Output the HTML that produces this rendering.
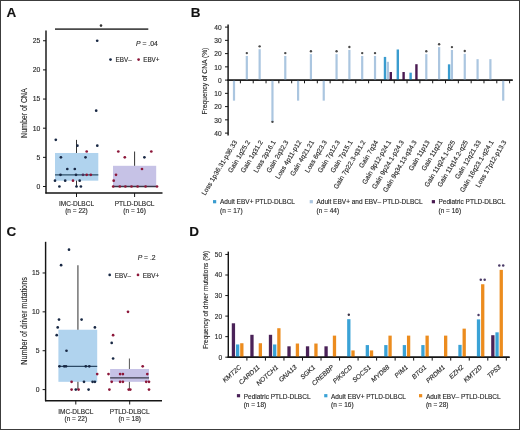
<!DOCTYPE html>
<html><head><meta charset="utf-8"><style>
html,body{margin:0;padding:0;background:#fff;}
svg{display:block;font-family:"Liberation Sans", sans-serif;will-change:transform;}
text{stroke:#2a2a2a;stroke-width:0.14px;}
</style></head><body>
<svg width="520" height="430" viewBox="0 0 520 430">
<rect width="520" height="430" fill="#fff"/>
<rect x="0.5" y="0.5" width="519" height="429" fill="none" stroke="#3c3c3c" stroke-width="1"/>
<text x="6.60" y="17.40" font-size="13.5" text-anchor="start" fill="#111" font-weight="bold" font-style="normal" >A</text>
<text x="190.80" y="17.40" font-size="13.5" text-anchor="start" fill="#111" font-weight="bold" font-style="normal" >B</text>
<text x="6.60" y="235.60" font-size="13.5" text-anchor="start" fill="#111" font-weight="bold" font-style="normal" >C</text>
<text x="189.20" y="235.60" font-size="13.5" text-anchor="start" fill="#111" font-weight="bold" font-style="normal" >D</text>
<rect x="55.00" y="152.98" width="43.30" height="27.69" fill="#b0d3ee"/>
<rect x="113.00" y="165.80" width="43.20" height="20.70" fill="#c6c2e6"/>
<line x1="76.50" y1="139.86" x2="76.50" y2="152.98" stroke="#333" stroke-width="1" />
<line x1="76.50" y1="180.67" x2="76.50" y2="186.50" stroke="#333" stroke-width="1" />
<line x1="134.60" y1="151.52" x2="134.60" y2="165.80" stroke="#333" stroke-width="1" />
<line x1="55.00" y1="174.84" x2="98.30" y2="174.84" stroke="#2f5068" stroke-width="1.4" />
<line x1="113.00" y1="186.50" x2="156.20" y2="186.50" stroke="#3a3a4a" stroke-width="1.6" />
<line x1="46.00" y1="30.50" x2="46.00" y2="193.50" stroke="#151515" stroke-width="1.45" />
<line x1="45.40" y1="193.00" x2="162.50" y2="193.00" stroke="#151515" stroke-width="1.45" />
<line x1="43.00" y1="186.50" x2="46.00" y2="186.50" stroke="#151515" stroke-width="1" />
<text x="40.30" y="188.90" font-size="6.8" text-anchor="end" fill="#2a2a2a" font-weight="normal" font-style="normal" >0</text>
<line x1="43.00" y1="157.35" x2="46.00" y2="157.35" stroke="#151515" stroke-width="1" />
<text x="40.30" y="159.75" font-size="6.8" text-anchor="end" fill="#2a2a2a" font-weight="normal" font-style="normal" >5</text>
<line x1="43.00" y1="128.20" x2="46.00" y2="128.20" stroke="#151515" stroke-width="1" />
<text x="40.30" y="130.60" font-size="6.8" text-anchor="end" fill="#2a2a2a" font-weight="normal" font-style="normal" >10</text>
<line x1="43.00" y1="99.05" x2="46.00" y2="99.05" stroke="#151515" stroke-width="1" />
<text x="40.30" y="101.45" font-size="6.8" text-anchor="end" fill="#2a2a2a" font-weight="normal" font-style="normal" >15</text>
<line x1="43.00" y1="69.90" x2="46.00" y2="69.90" stroke="#151515" stroke-width="1" />
<text x="40.30" y="72.30" font-size="6.8" text-anchor="end" fill="#2a2a2a" font-weight="normal" font-style="normal" >20</text>
<line x1="43.00" y1="40.75" x2="46.00" y2="40.75" stroke="#151515" stroke-width="1" />
<text x="40.30" y="43.15" font-size="6.8" text-anchor="end" fill="#2a2a2a" font-weight="normal" font-style="normal" >25</text>
<line x1="76.50" y1="193.00" x2="76.50" y2="197.00" stroke="#151515" stroke-width="1" />
<line x1="134.60" y1="193.00" x2="134.60" y2="197.00" stroke="#151515" stroke-width="1" />
<text x="76.50" y="205.60" font-size="6.5" text-anchor="middle" fill="#2a2a2a" font-weight="normal" font-style="normal" >IMC-DLBCL</text>
<text x="76.50" y="212.80" font-size="6.5" text-anchor="middle" fill="#2a2a2a" font-weight="normal" font-style="normal" >(n = 22)</text>
<text x="134.60" y="205.60" font-size="6.5" text-anchor="middle" fill="#2a2a2a" font-weight="normal" font-style="normal" >PTLD-DLBCL</text>
<text x="134.60" y="212.80" font-size="6.5" text-anchor="middle" fill="#2a2a2a" font-weight="normal" font-style="normal" >(n = 16)</text>
<text x="27.10" y="113.10" font-size="8.4" text-anchor="middle" fill="#2a2a2a" font-weight="normal" font-style="normal" transform="rotate(-90 27.1 113.1)" textLength="49.7" lengthAdjust="spacingAndGlyphs">Number of CNA</text>
<line x1="55.00" y1="29.15" x2="148.30" y2="29.15" stroke="#4a4a4a" stroke-width="1.8" />
<circle cx="101.00" cy="25.60" r="1.3" fill="#333"/>
<text x="136.00" y="46.00" font-size="6.8" text-anchor="start" fill="#2a2a2a" font-weight="normal" font-style="normal" ><tspan font-style="italic">P</tspan> = .04</text>
<circle cx="110.50" cy="59.60" r="1.35" fill="#182844"/>
<text x="115.60" y="61.90" font-size="6.3" text-anchor="start" fill="#2a2a2a" font-weight="normal" font-style="normal" >EBV–</text>
<circle cx="138.60" cy="59.60" r="1.35" fill="#8c1639"/>
<text x="143.20" y="61.90" font-size="6.3" text-anchor="start" fill="#2a2a2a" font-weight="normal" font-style="normal" >EBV+</text>
<circle cx="97.20" cy="40.75" r="1.35" fill="#182844"/>
<circle cx="96.20" cy="110.71" r="1.35" fill="#182844"/>
<circle cx="55.80" cy="139.86" r="1.35" fill="#182844"/>
<circle cx="77.40" cy="145.69" r="1.35" fill="#182844"/>
<circle cx="97.30" cy="145.69" r="1.35" fill="#182844"/>
<circle cx="86.70" cy="151.52" r="1.35" fill="#8c1639"/>
<circle cx="60.90" cy="157.35" r="1.35" fill="#182844"/>
<circle cx="85.50" cy="157.35" r="1.35" fill="#182844"/>
<circle cx="67.30" cy="169.01" r="1.35" fill="#182844"/>
<circle cx="74.80" cy="169.01" r="1.35" fill="#182844"/>
<circle cx="60.50" cy="174.84" r="1.35" fill="#182844"/>
<circle cx="76.00" cy="174.84" r="1.35" fill="#182844"/>
<circle cx="83.00" cy="174.84" r="1.35" fill="#4a2f5a"/>
<circle cx="86.70" cy="174.84" r="1.35" fill="#8c1639"/>
<circle cx="90.80" cy="174.84" r="1.35" fill="#8c1639"/>
<circle cx="55.00" cy="180.67" r="1.35" fill="#182844"/>
<circle cx="65.20" cy="180.67" r="1.35" fill="#182844"/>
<circle cx="73.00" cy="180.67" r="1.35" fill="#8c1639"/>
<circle cx="79.70" cy="180.67" r="1.35" fill="#182844"/>
<circle cx="59.40" cy="186.50" r="1.35" fill="#182844"/>
<circle cx="76.50" cy="186.50" r="1.35" fill="#182844"/>
<circle cx="80.90" cy="186.50" r="1.35" fill="#182844"/>
<circle cx="118.30" cy="151.52" r="1.35" fill="#8c1639"/>
<circle cx="151.30" cy="151.52" r="1.35" fill="#8c1639"/>
<circle cx="124.80" cy="157.35" r="1.35" fill="#8c1639"/>
<circle cx="144.40" cy="157.35" r="1.35" fill="#182844"/>
<circle cx="142.00" cy="169.01" r="1.35" fill="#8c1639"/>
<circle cx="116.00" cy="174.84" r="1.35" fill="#8c1639"/>
<circle cx="113.70" cy="180.67" r="1.35" fill="#8c1639"/>
<circle cx="113.20" cy="186.50" r="1.35" fill="#8c1639"/>
<circle cx="119.80" cy="186.50" r="1.35" fill="#8c1639"/>
<circle cx="125.40" cy="186.50" r="1.35" fill="#8c1639"/>
<circle cx="131.50" cy="186.50" r="1.35" fill="#8c1639"/>
<circle cx="137.60" cy="186.50" r="1.35" fill="#8c1639"/>
<circle cx="145.60" cy="186.50" r="1.35" fill="#8c1639"/>
<circle cx="157.00" cy="186.50" r="1.35" fill="#8c1639"/>
<line x1="228.10" y1="24.50" x2="228.10" y2="135.50" stroke="#151515" stroke-width="1.45" />
<line x1="227.50" y1="80.10" x2="512.70" y2="80.10" stroke="#151515" stroke-width="1.45" />
<line x1="225.00" y1="27.10" x2="228.10" y2="27.10" stroke="#151515" stroke-width="1" />
<text x="221.60" y="29.80" font-size="6.6" text-anchor="end" fill="#2a2a2a" font-weight="normal" font-style="normal" >40</text>
<line x1="225.00" y1="40.35" x2="228.10" y2="40.35" stroke="#151515" stroke-width="1" />
<text x="221.60" y="43.05" font-size="6.6" text-anchor="end" fill="#2a2a2a" font-weight="normal" font-style="normal" >30</text>
<line x1="225.00" y1="53.60" x2="228.10" y2="53.60" stroke="#151515" stroke-width="1" />
<text x="221.60" y="56.30" font-size="6.6" text-anchor="end" fill="#2a2a2a" font-weight="normal" font-style="normal" >20</text>
<line x1="225.00" y1="66.85" x2="228.10" y2="66.85" stroke="#151515" stroke-width="1" />
<text x="221.60" y="69.55" font-size="6.6" text-anchor="end" fill="#2a2a2a" font-weight="normal" font-style="normal" >10</text>
<line x1="225.00" y1="80.10" x2="228.10" y2="80.10" stroke="#151515" stroke-width="1" />
<text x="221.60" y="82.80" font-size="6.6" text-anchor="end" fill="#2a2a2a" font-weight="normal" font-style="normal" >0</text>
<line x1="225.00" y1="93.35" x2="228.10" y2="93.35" stroke="#151515" stroke-width="1" />
<text x="221.60" y="96.05" font-size="6.6" text-anchor="end" fill="#2a2a2a" font-weight="normal" font-style="normal" >10</text>
<line x1="225.00" y1="106.60" x2="228.10" y2="106.60" stroke="#151515" stroke-width="1" />
<text x="221.60" y="109.30" font-size="6.6" text-anchor="end" fill="#2a2a2a" font-weight="normal" font-style="normal" >20</text>
<line x1="225.00" y1="119.85" x2="228.10" y2="119.85" stroke="#151515" stroke-width="1" />
<text x="221.60" y="122.55" font-size="6.6" text-anchor="end" fill="#2a2a2a" font-weight="normal" font-style="normal" >30</text>
<line x1="225.00" y1="133.10" x2="228.10" y2="133.10" stroke="#151515" stroke-width="1" />
<text x="221.60" y="135.80" font-size="6.6" text-anchor="end" fill="#2a2a2a" font-weight="normal" font-style="normal" >40</text>
<text x="207.50" y="81.10" font-size="7.0" text-anchor="middle" fill="#2a2a2a" font-weight="normal" font-style="normal" transform="rotate(-90 207.5 81.1)" textLength="66.8" lengthAdjust="spacingAndGlyphs">Frequency of CNA (%)</text>
<line x1="240.40" y1="80.10" x2="240.40" y2="83.30" stroke="#151515" stroke-width="1" />
<line x1="253.22" y1="80.10" x2="253.22" y2="83.30" stroke="#151515" stroke-width="1" />
<line x1="266.04" y1="80.10" x2="266.04" y2="83.30" stroke="#151515" stroke-width="1" />
<line x1="278.86" y1="80.10" x2="278.86" y2="83.30" stroke="#151515" stroke-width="1" />
<line x1="291.68" y1="80.10" x2="291.68" y2="83.30" stroke="#151515" stroke-width="1" />
<line x1="304.50" y1="80.10" x2="304.50" y2="83.30" stroke="#151515" stroke-width="1" />
<line x1="317.32" y1="80.10" x2="317.32" y2="83.30" stroke="#151515" stroke-width="1" />
<line x1="330.14" y1="80.10" x2="330.14" y2="83.30" stroke="#151515" stroke-width="1" />
<line x1="342.96" y1="80.10" x2="342.96" y2="83.30" stroke="#151515" stroke-width="1" />
<line x1="355.78" y1="80.10" x2="355.78" y2="83.30" stroke="#151515" stroke-width="1" />
<line x1="368.60" y1="80.10" x2="368.60" y2="83.30" stroke="#151515" stroke-width="1" />
<line x1="381.42" y1="80.10" x2="381.42" y2="83.30" stroke="#151515" stroke-width="1" />
<line x1="394.24" y1="80.10" x2="394.24" y2="83.30" stroke="#151515" stroke-width="1" />
<line x1="407.06" y1="80.10" x2="407.06" y2="83.30" stroke="#151515" stroke-width="1" />
<line x1="419.88" y1="80.10" x2="419.88" y2="83.30" stroke="#151515" stroke-width="1" />
<line x1="432.70" y1="80.10" x2="432.70" y2="83.30" stroke="#151515" stroke-width="1" />
<line x1="445.52" y1="80.10" x2="445.52" y2="83.30" stroke="#151515" stroke-width="1" />
<line x1="458.34" y1="80.10" x2="458.34" y2="83.30" stroke="#151515" stroke-width="1" />
<line x1="471.16" y1="80.10" x2="471.16" y2="83.30" stroke="#151515" stroke-width="1" />
<line x1="483.98" y1="80.10" x2="483.98" y2="83.30" stroke="#151515" stroke-width="1" />
<line x1="496.80" y1="80.10" x2="496.80" y2="83.30" stroke="#151515" stroke-width="1" />
<line x1="509.62" y1="80.10" x2="509.62" y2="83.30" stroke="#151515" stroke-width="1" />
<rect x="232.90" y="80.10" width="2.20" height="20.54" fill="#abc6e0"/>
<rect x="245.72" y="55.98" width="2.20" height="24.11" fill="#abc6e0"/>
<circle cx="246.82" cy="53.09" r="1.2" fill="#4a4a4a"/>
<rect x="258.54" y="49.23" width="2.20" height="30.87" fill="#abc6e0"/>
<circle cx="259.64" cy="46.33" r="1.2" fill="#4a4a4a"/>
<rect x="271.36" y="80.10" width="2.20" height="41.74" fill="#abc6e0"/>
<circle cx="272.46" cy="121.84" r="1.2" fill="#4a4a4a"/>
<rect x="284.18" y="55.98" width="2.20" height="24.11" fill="#abc6e0"/>
<circle cx="285.28" cy="53.09" r="1.2" fill="#4a4a4a"/>
<rect x="297.00" y="80.10" width="2.20" height="20.54" fill="#abc6e0"/>
<rect x="309.82" y="54.13" width="2.20" height="25.97" fill="#abc6e0"/>
<circle cx="310.92" cy="51.23" r="1.2" fill="#4a4a4a"/>
<rect x="322.64" y="80.10" width="2.20" height="20.54" fill="#abc6e0"/>
<rect x="335.46" y="54.13" width="2.20" height="25.97" fill="#abc6e0"/>
<circle cx="336.56" cy="51.23" r="1.2" fill="#4a4a4a"/>
<rect x="348.28" y="49.89" width="2.20" height="30.21" fill="#abc6e0"/>
<circle cx="349.38" cy="46.99" r="1.2" fill="#4a4a4a"/>
<rect x="361.10" y="55.98" width="2.20" height="24.11" fill="#abc6e0"/>
<circle cx="362.20" cy="53.09" r="1.2" fill="#4a4a4a"/>
<rect x="373.92" y="55.98" width="2.20" height="24.11" fill="#abc6e0"/>
<circle cx="375.02" cy="53.09" r="1.2" fill="#4a4a4a"/>
<rect x="386.74" y="61.81" width="2.20" height="18.28" fill="#abc6e0"/>
<rect x="425.20" y="54.13" width="2.20" height="25.97" fill="#abc6e0"/>
<circle cx="426.30" cy="51.23" r="1.2" fill="#4a4a4a"/>
<rect x="438.02" y="47.11" width="2.20" height="32.99" fill="#abc6e0"/>
<circle cx="439.12" cy="44.21" r="1.2" fill="#4a4a4a"/>
<rect x="450.84" y="50.02" width="2.20" height="30.08" fill="#abc6e0"/>
<circle cx="451.94" cy="47.12" r="1.2" fill="#4a4a4a"/>
<rect x="463.66" y="53.86" width="2.20" height="26.23" fill="#abc6e0"/>
<circle cx="464.76" cy="50.96" r="1.2" fill="#4a4a4a"/>
<rect x="476.48" y="59.16" width="2.20" height="20.94" fill="#abc6e0"/>
<rect x="489.30" y="59.16" width="2.20" height="20.94" fill="#abc6e0"/>
<rect x="502.12" y="80.10" width="2.20" height="20.54" fill="#abc6e0"/>
<rect x="383.79" y="56.91" width="2.40" height="23.19" fill="#3a9ccf"/>
<rect x="396.61" y="49.49" width="2.40" height="30.61" fill="#3a9ccf"/>
<rect x="409.43" y="72.68" width="2.40" height="7.42" fill="#3a9ccf"/>
<rect x="447.89" y="64.33" width="2.40" height="15.77" fill="#3a9ccf"/>
<rect x="389.59" y="72.02" width="2.40" height="8.08" fill="#4a1a52"/>
<rect x="402.41" y="72.02" width="2.40" height="8.08" fill="#4a1a52"/>
<rect x="415.23" y="64.20" width="2.40" height="15.90" fill="#4a1a52"/>
<line x1="227.50" y1="80.10" x2="512.70" y2="80.10" stroke="#151515" stroke-width="1.45" />
<text x="237.50" y="142.00" font-size="6.7" text-anchor="end" fill="#2a2a2a" font-weight="normal" font-style="normal" transform="rotate(-59 237.50 142.00)" >Loss 1p36.31-p36.33</text>
<text x="250.32" y="142.00" font-size="6.7" text-anchor="end" fill="#2a2a2a" font-weight="normal" font-style="normal" transform="rotate(-59 250.32 142.00)" >Gain 1q25.2</text>
<text x="263.14" y="142.00" font-size="6.7" text-anchor="end" fill="#2a2a2a" font-weight="normal" font-style="normal" transform="rotate(-59 263.14 142.00)" >Gain 1q31.2</text>
<text x="275.96" y="142.00" font-size="6.7" text-anchor="end" fill="#2a2a2a" font-weight="normal" font-style="normal" transform="rotate(-59 275.96 142.00)" >Loss 2p16.1</text>
<text x="288.78" y="142.00" font-size="6.7" text-anchor="end" fill="#2a2a2a" font-weight="normal" font-style="normal" transform="rotate(-59 288.78 142.00)" >Gain 2q32.3</text>
<text x="301.60" y="142.00" font-size="6.7" text-anchor="end" fill="#2a2a2a" font-weight="normal" font-style="normal" transform="rotate(-59 301.60 142.00)" >Loss 4p11-p12</text>
<text x="314.42" y="142.00" font-size="6.7" text-anchor="end" fill="#2a2a2a" font-weight="normal" font-style="normal" transform="rotate(-59 314.42 142.00)" >Gain 4q21.21</text>
<text x="327.24" y="142.00" font-size="6.7" text-anchor="end" fill="#2a2a2a" font-weight="normal" font-style="normal" transform="rotate(-59 327.24 142.00)" >Loss 6q23.3</text>
<text x="340.06" y="142.00" font-size="6.7" text-anchor="end" fill="#2a2a2a" font-weight="normal" font-style="normal" transform="rotate(-59 340.06 142.00)" >Gain 7p12.3</text>
<text x="352.88" y="142.00" font-size="6.7" text-anchor="end" fill="#2a2a2a" font-weight="normal" font-style="normal" transform="rotate(-59 352.88 142.00)" >Gain 7p15.1</text>
<text x="365.70" y="142.00" font-size="6.7" text-anchor="end" fill="#2a2a2a" font-weight="normal" font-style="normal" transform="rotate(-59 365.70 142.00)" >Gain 7p22.3-q31.2</text>
<text x="378.52" y="142.00" font-size="6.7" text-anchor="end" fill="#2a2a2a" font-weight="normal" font-style="normal" transform="rotate(-59 378.52 142.00)" >Gain 7q34</text>
<text x="391.34" y="142.00" font-size="6.7" text-anchor="end" fill="#2a2a2a" font-weight="normal" font-style="normal" transform="rotate(-59 391.34 142.00)" >Gain 9p12-p24.1</text>
<text x="404.16" y="142.00" font-size="6.7" text-anchor="end" fill="#2a2a2a" font-weight="normal" font-style="normal" transform="rotate(-59 404.16 142.00)" >Gain 9p24.1-p24.3</text>
<text x="416.98" y="142.00" font-size="6.7" text-anchor="end" fill="#2a2a2a" font-weight="normal" font-style="normal" transform="rotate(-59 416.98 142.00)" >Gain 9q34.13-q34.3</text>
<text x="429.80" y="142.00" font-size="6.7" text-anchor="end" fill="#2a2a2a" font-weight="normal" font-style="normal" transform="rotate(-59 429.80 142.00)" >Gain 11p13</text>
<text x="442.62" y="142.00" font-size="6.7" text-anchor="end" fill="#2a2a2a" font-weight="normal" font-style="normal" transform="rotate(-59 442.62 142.00)" >Gain 11q21</text>
<text x="455.44" y="142.00" font-size="6.7" text-anchor="end" fill="#2a2a2a" font-weight="normal" font-style="normal" transform="rotate(-59 455.44 142.00)" >Gain 11q24.1-q25</text>
<text x="468.26" y="142.00" font-size="6.7" text-anchor="end" fill="#2a2a2a" font-weight="normal" font-style="normal" transform="rotate(-59 468.26 142.00)" >Gain 11q14.2-q25</text>
<text x="481.08" y="142.00" font-size="6.7" text-anchor="end" fill="#2a2a2a" font-weight="normal" font-style="normal" transform="rotate(-59 481.08 142.00)" >Gain 12q21.33</text>
<text x="493.90" y="142.00" font-size="6.7" text-anchor="end" fill="#2a2a2a" font-weight="normal" font-style="normal" transform="rotate(-59 493.90 142.00)" >Gain 16q23.1-q24.1</text>
<text x="506.72" y="142.00" font-size="6.7" text-anchor="end" fill="#2a2a2a" font-weight="normal" font-style="normal" transform="rotate(-59 506.72 142.00)" >Loss 17p12-p13.3</text>
<rect x="213.00" y="200.10" width="3.20" height="3.20" fill="#3a9ccf"/>
<text x="220.00" y="204.20" font-size="6.5" text-anchor="start" fill="#2a2a2a" font-weight="normal" font-style="normal" >Adult EBV+ PTLD-DLBCL</text>
<text x="220.00" y="212.50" font-size="6.5" text-anchor="start" fill="#2a2a2a" font-weight="normal" font-style="normal" >(n = 17)</text>
<rect x="309.70" y="200.10" width="3.20" height="3.20" fill="#abc6e0"/>
<text x="316.50" y="204.20" font-size="6.5" text-anchor="start" fill="#2a2a2a" font-weight="normal" font-style="normal" >Adult EBV+ and EBV– PTLD-DLBCL</text>
<text x="316.50" y="212.50" font-size="6.5" text-anchor="start" fill="#2a2a2a" font-weight="normal" font-style="normal" >(n = 44)</text>
<rect x="431.80" y="200.10" width="3.20" height="3.20" fill="#4a1a52"/>
<text x="438.50" y="204.20" font-size="6.5" text-anchor="start" fill="#2a2a2a" font-weight="normal" font-style="normal" >Pediatric PTLD-DLBCL</text>
<text x="438.50" y="212.50" font-size="6.5" text-anchor="start" fill="#2a2a2a" font-weight="normal" font-style="normal" >(n = 16)</text>
<rect x="58.40" y="329.73" width="38.80" height="52.09" fill="#b0d3ee"/>
<rect x="110.10" y="369.00" width="38.90" height="12.83" fill="#c6c2e6"/>
<line x1="77.90" y1="265.20" x2="77.90" y2="329.73" stroke="#6a6a6a" stroke-width="1.4" />
<line x1="77.90" y1="381.83" x2="77.90" y2="389.60" stroke="#6a6a6a" stroke-width="1.4" />
<line x1="129.40" y1="358.50" x2="129.40" y2="369.00" stroke="#555" stroke-width="1" />
<line x1="129.40" y1="381.83" x2="129.40" y2="389.60" stroke="#555" stroke-width="1" />
<line x1="58.40" y1="366.28" x2="97.20" y2="366.28" stroke="#2c4a66" stroke-width="1.3" />
<line x1="110.10" y1="377.94" x2="149.00" y2="377.94" stroke="#3a3a4a" stroke-width="1.3" />
<line x1="45.60" y1="241.80" x2="45.60" y2="401.20" stroke="#151515" stroke-width="1.45" />
<line x1="45.00" y1="400.70" x2="162.00" y2="400.70" stroke="#151515" stroke-width="1.45" />
<line x1="42.60" y1="389.60" x2="45.60" y2="389.60" stroke="#151515" stroke-width="1" />
<text x="39.60" y="392.00" font-size="6.8" text-anchor="end" fill="#2a2a2a" font-weight="normal" font-style="normal" >0</text>
<line x1="42.60" y1="350.73" x2="45.60" y2="350.73" stroke="#151515" stroke-width="1" />
<text x="39.60" y="353.12" font-size="6.8" text-anchor="end" fill="#2a2a2a" font-weight="normal" font-style="normal" >5</text>
<line x1="42.60" y1="311.85" x2="45.60" y2="311.85" stroke="#151515" stroke-width="1" />
<text x="39.60" y="314.25" font-size="6.8" text-anchor="end" fill="#2a2a2a" font-weight="normal" font-style="normal" >10</text>
<line x1="42.60" y1="272.98" x2="45.60" y2="272.98" stroke="#151515" stroke-width="1" />
<text x="39.60" y="275.38" font-size="6.8" text-anchor="end" fill="#2a2a2a" font-weight="normal" font-style="normal" >15</text>
<line x1="75.80" y1="400.70" x2="75.80" y2="404.50" stroke="#151515" stroke-width="1" />
<line x1="129.70" y1="400.70" x2="129.70" y2="404.50" stroke="#151515" stroke-width="1" />
<text x="75.80" y="413.70" font-size="6.5" text-anchor="middle" fill="#2a2a2a" font-weight="normal" font-style="normal" >IMC-DLBCL</text>
<text x="75.80" y="421.40" font-size="6.5" text-anchor="middle" fill="#2a2a2a" font-weight="normal" font-style="normal" >(n = 22)</text>
<text x="129.70" y="413.70" font-size="6.5" text-anchor="middle" fill="#2a2a2a" font-weight="normal" font-style="normal" >PTLD-DLBCL</text>
<text x="129.70" y="421.40" font-size="6.5" text-anchor="middle" fill="#2a2a2a" font-weight="normal" font-style="normal" >(n = 18)</text>
<text x="26.80" y="321.00" font-size="8.4" text-anchor="middle" fill="#2a2a2a" font-weight="normal" font-style="normal" transform="rotate(-90 26.8 321)" textLength="87.7" lengthAdjust="spacingAndGlyphs">Number of driver mutations</text>
<text x="137.70" y="259.80" font-size="6.8" text-anchor="start" fill="#2a2a2a" font-weight="normal" font-style="normal" ><tspan font-style="italic">P</tspan> = .2</text>
<circle cx="109.70" cy="274.90" r="1.35" fill="#182844"/>
<text x="114.80" y="277.50" font-size="6.3" text-anchor="start" fill="#2a2a2a" font-weight="normal" font-style="normal" >EBV–</text>
<circle cx="138.00" cy="274.90" r="1.35" fill="#8c1639"/>
<text x="142.80" y="277.50" font-size="6.3" text-anchor="start" fill="#2a2a2a" font-weight="normal" font-style="normal" >EBV+</text>
<circle cx="69.00" cy="249.65" r="1.35" fill="#182844"/>
<circle cx="61.10" cy="265.20" r="1.35" fill="#182844"/>
<circle cx="59.00" cy="319.62" r="1.35" fill="#182844"/>
<circle cx="81.60" cy="319.62" r="1.35" fill="#182844"/>
<circle cx="57.70" cy="327.40" r="1.35" fill="#182844"/>
<circle cx="94.90" cy="327.40" r="1.35" fill="#182844"/>
<circle cx="56.70" cy="335.18" r="1.35" fill="#182844"/>
<circle cx="66.50" cy="350.73" r="1.35" fill="#182844"/>
<circle cx="59.50" cy="366.28" r="1.35" fill="#182844"/>
<circle cx="64.20" cy="366.28" r="1.35" fill="#182844"/>
<circle cx="66.00" cy="366.28" r="1.35" fill="#182844"/>
<circle cx="85.80" cy="366.28" r="1.35" fill="#182844"/>
<circle cx="89.30" cy="366.28" r="1.35" fill="#182844"/>
<circle cx="97.20" cy="374.05" r="1.35" fill="#8c1639"/>
<circle cx="71.60" cy="381.83" r="1.35" fill="#8c1639"/>
<circle cx="84.00" cy="381.83" r="1.35" fill="#182844"/>
<circle cx="92.60" cy="381.83" r="1.35" fill="#182844"/>
<circle cx="94.90" cy="381.83" r="1.35" fill="#182844"/>
<circle cx="71.60" cy="389.60" r="1.35" fill="#8c1639"/>
<circle cx="75.80" cy="389.60" r="1.35" fill="#182844"/>
<circle cx="78.60" cy="389.60" r="1.35" fill="#8c1639"/>
<circle cx="88.60" cy="389.60" r="1.35" fill="#182844"/>
<circle cx="128.00" cy="311.85" r="1.35" fill="#8c1639"/>
<circle cx="113.10" cy="335.18" r="1.35" fill="#8c1639"/>
<circle cx="111.70" cy="342.95" r="1.35" fill="#182844"/>
<circle cx="113.10" cy="358.50" r="1.35" fill="#182844"/>
<circle cx="142.70" cy="366.28" r="1.35" fill="#8c1639"/>
<circle cx="108.50" cy="374.05" r="1.35" fill="#8c1639"/>
<circle cx="120.10" cy="374.05" r="1.35" fill="#8c1639"/>
<circle cx="122.90" cy="374.05" r="1.35" fill="#8c1639"/>
<circle cx="147.30" cy="374.05" r="1.35" fill="#8c1639"/>
<circle cx="111.70" cy="381.83" r="1.35" fill="#8c1639"/>
<circle cx="120.10" cy="381.83" r="1.35" fill="#8c1639"/>
<circle cx="122.90" cy="381.83" r="1.35" fill="#8c1639"/>
<circle cx="146.20" cy="381.83" r="1.35" fill="#8c1639"/>
<circle cx="149.00" cy="381.83" r="1.35" fill="#8c1639"/>
<circle cx="109.40" cy="389.60" r="1.35" fill="#8c1639"/>
<circle cx="128.70" cy="389.60" r="1.35" fill="#8c1639"/>
<circle cx="130.30" cy="389.60" r="1.35" fill="#8c1639"/>
<circle cx="149.00" cy="389.60" r="1.35" fill="#8c1639"/>
<line x1="228.30" y1="251.60" x2="228.30" y2="357.80" stroke="#151515" stroke-width="1.45" />
<line x1="227.70" y1="357.20" x2="509.60" y2="357.20" stroke="#151515" stroke-width="1.45" />
<line x1="225.30" y1="357.20" x2="228.30" y2="357.20" stroke="#151515" stroke-width="1" />
<text x="222.00" y="359.60" font-size="6.5" text-anchor="end" fill="#2a2a2a" font-weight="normal" font-style="normal" >0</text>
<line x1="225.30" y1="336.65" x2="228.30" y2="336.65" stroke="#151515" stroke-width="1" />
<text x="222.00" y="339.05" font-size="6.5" text-anchor="end" fill="#2a2a2a" font-weight="normal" font-style="normal" >10</text>
<line x1="225.30" y1="316.10" x2="228.30" y2="316.10" stroke="#151515" stroke-width="1" />
<text x="222.00" y="318.50" font-size="6.5" text-anchor="end" fill="#2a2a2a" font-weight="normal" font-style="normal" >20</text>
<line x1="225.30" y1="295.55" x2="228.30" y2="295.55" stroke="#151515" stroke-width="1" />
<text x="222.00" y="297.95" font-size="6.5" text-anchor="end" fill="#2a2a2a" font-weight="normal" font-style="normal" >30</text>
<line x1="225.30" y1="275.00" x2="228.30" y2="275.00" stroke="#151515" stroke-width="1" />
<text x="222.00" y="277.40" font-size="6.5" text-anchor="end" fill="#2a2a2a" font-weight="normal" font-style="normal" >40</text>
<line x1="225.30" y1="254.45" x2="228.30" y2="254.45" stroke="#151515" stroke-width="1" />
<text x="222.00" y="256.85" font-size="6.5" text-anchor="end" fill="#2a2a2a" font-weight="normal" font-style="normal" >50</text>
<text x="208.00" y="299.90" font-size="7.5" text-anchor="middle" fill="#2a2a2a" font-weight="normal" font-style="normal" transform="rotate(-90 208 299.9)" textLength="98.4" lengthAdjust="spacingAndGlyphs">Frequency of driver mutations (%)</text>
<line x1="246.90" y1="357.20" x2="246.90" y2="360.60" stroke="#151515" stroke-width="1" />
<line x1="265.43" y1="357.20" x2="265.43" y2="360.60" stroke="#151515" stroke-width="1" />
<line x1="283.96" y1="357.20" x2="283.96" y2="360.60" stroke="#151515" stroke-width="1" />
<line x1="302.49" y1="357.20" x2="302.49" y2="360.60" stroke="#151515" stroke-width="1" />
<line x1="321.02" y1="357.20" x2="321.02" y2="360.60" stroke="#151515" stroke-width="1" />
<line x1="339.55" y1="357.20" x2="339.55" y2="360.60" stroke="#151515" stroke-width="1" />
<line x1="358.08" y1="357.20" x2="358.08" y2="360.60" stroke="#151515" stroke-width="1" />
<line x1="376.61" y1="357.20" x2="376.61" y2="360.60" stroke="#151515" stroke-width="1" />
<line x1="395.14" y1="357.20" x2="395.14" y2="360.60" stroke="#151515" stroke-width="1" />
<line x1="413.67" y1="357.20" x2="413.67" y2="360.60" stroke="#151515" stroke-width="1" />
<line x1="432.20" y1="357.20" x2="432.20" y2="360.60" stroke="#151515" stroke-width="1" />
<line x1="450.73" y1="357.20" x2="450.73" y2="360.60" stroke="#151515" stroke-width="1" />
<line x1="469.26" y1="357.20" x2="469.26" y2="360.60" stroke="#151515" stroke-width="1" />
<line x1="487.79" y1="357.20" x2="487.79" y2="360.60" stroke="#151515" stroke-width="1" />
<line x1="506.32" y1="357.20" x2="506.32" y2="360.60" stroke="#151515" stroke-width="1" />
<rect x="231.78" y="323.29" width="3.30" height="33.91" fill="#4a2258"/>
<rect x="250.31" y="334.80" width="3.30" height="22.40" fill="#4a2258"/>
<rect x="268.84" y="334.80" width="3.30" height="22.40" fill="#4a2258"/>
<rect x="287.37" y="346.31" width="3.30" height="10.89" fill="#4a2258"/>
<rect x="305.90" y="346.31" width="3.30" height="10.89" fill="#4a2258"/>
<rect x="324.43" y="346.31" width="3.30" height="10.89" fill="#4a2258"/>
<rect x="491.20" y="335.21" width="3.30" height="21.99" fill="#4a2258"/>
<rect x="235.98" y="344.46" width="3.30" height="12.74" fill="#3aa2d6"/>
<rect x="273.04" y="344.46" width="3.30" height="12.74" fill="#3aa2d6"/>
<rect x="347.16" y="319.18" width="3.30" height="38.02" fill="#3aa2d6"/>
<rect x="365.69" y="345.08" width="3.30" height="12.12" fill="#3aa2d6"/>
<rect x="384.22" y="345.08" width="3.30" height="12.12" fill="#3aa2d6"/>
<rect x="402.75" y="345.08" width="3.30" height="12.12" fill="#3aa2d6"/>
<rect x="421.28" y="345.08" width="3.30" height="12.12" fill="#3aa2d6"/>
<rect x="458.34" y="344.87" width="3.30" height="12.33" fill="#3aa2d6"/>
<rect x="476.87" y="319.39" width="3.30" height="37.81" fill="#3aa2d6"/>
<rect x="495.40" y="332.33" width="3.30" height="24.87" fill="#3aa2d6"/>
<rect x="240.18" y="343.23" width="3.30" height="13.97" fill="#ec8c1e"/>
<rect x="258.71" y="343.23" width="3.30" height="13.97" fill="#ec8c1e"/>
<rect x="277.24" y="328.22" width="3.30" height="28.98" fill="#ec8c1e"/>
<rect x="295.77" y="343.53" width="3.30" height="13.67" fill="#ec8c1e"/>
<rect x="314.30" y="343.53" width="3.30" height="13.67" fill="#ec8c1e"/>
<rect x="332.83" y="335.62" width="3.30" height="21.58" fill="#ec8c1e"/>
<rect x="351.36" y="350.42" width="3.30" height="6.78" fill="#ec8c1e"/>
<rect x="369.89" y="350.42" width="3.30" height="6.78" fill="#ec8c1e"/>
<rect x="388.42" y="335.62" width="3.30" height="21.58" fill="#ec8c1e"/>
<rect x="406.95" y="335.62" width="3.30" height="21.58" fill="#ec8c1e"/>
<rect x="425.48" y="335.62" width="3.30" height="21.58" fill="#ec8c1e"/>
<rect x="444.01" y="335.62" width="3.30" height="21.58" fill="#ec8c1e"/>
<rect x="462.54" y="328.64" width="3.30" height="28.56" fill="#ec8c1e"/>
<rect x="481.07" y="284.25" width="3.30" height="72.95" fill="#ec8c1e"/>
<rect x="499.60" y="269.86" width="3.30" height="87.34" fill="#ec8c1e"/>
<line x1="227.70" y1="357.20" x2="509.60" y2="357.20" stroke="#151515" stroke-width="1.45" />
<circle cx="348.81" cy="314.78" r="1.2" fill="#3a3346"/>
<circle cx="478.52" cy="314.99" r="1.2" fill="#4a3a66"/>
<circle cx="480.77" cy="279.85" r="1.25" fill="#4a3a66"/>
<circle cx="484.67" cy="279.85" r="1.25" fill="#4a3a66"/>
<circle cx="499.30" cy="265.46" r="1.25" fill="#4a3a66"/>
<circle cx="503.20" cy="265.46" r="1.25" fill="#4a3a66"/>
<text x="241.73" y="367.90" font-size="6.6" text-anchor="end" fill="#2a2a2a" font-weight="normal" font-style="italic" transform="rotate(-42 241.73 367.90)" >KMT2C</text>
<text x="260.26" y="367.90" font-size="6.6" text-anchor="end" fill="#2a2a2a" font-weight="normal" font-style="italic" transform="rotate(-42 260.26 367.90)" >CARD11</text>
<text x="278.79" y="367.90" font-size="6.6" text-anchor="end" fill="#2a2a2a" font-weight="normal" font-style="italic" transform="rotate(-42 278.79 367.90)" >NOTCH1</text>
<text x="297.32" y="367.90" font-size="6.6" text-anchor="end" fill="#2a2a2a" font-weight="normal" font-style="italic" transform="rotate(-42 297.32 367.90)" >GNA13</text>
<text x="315.85" y="367.90" font-size="6.6" text-anchor="end" fill="#2a2a2a" font-weight="normal" font-style="italic" transform="rotate(-42 315.85 367.90)" >SGK1</text>
<text x="334.38" y="367.90" font-size="6.6" text-anchor="end" fill="#2a2a2a" font-weight="normal" font-style="italic" transform="rotate(-42 334.38 367.90)" >CREBBP</text>
<text x="352.91" y="367.90" font-size="6.6" text-anchor="end" fill="#2a2a2a" font-weight="normal" font-style="italic" transform="rotate(-42 352.91 367.90)" >PIK3CD</text>
<text x="371.44" y="367.90" font-size="6.6" text-anchor="end" fill="#2a2a2a" font-weight="normal" font-style="italic" transform="rotate(-42 371.44 367.90)" >SOCS1</text>
<text x="389.97" y="367.90" font-size="6.6" text-anchor="end" fill="#2a2a2a" font-weight="normal" font-style="italic" transform="rotate(-42 389.97 367.90)" >MYD88</text>
<text x="408.50" y="367.90" font-size="6.6" text-anchor="end" fill="#2a2a2a" font-weight="normal" font-style="italic" transform="rotate(-42 408.50 367.90)" >PIM1</text>
<text x="427.03" y="367.90" font-size="6.6" text-anchor="end" fill="#2a2a2a" font-weight="normal" font-style="italic" transform="rotate(-42 427.03 367.90)" >BTG1</text>
<text x="445.56" y="367.90" font-size="6.6" text-anchor="end" fill="#2a2a2a" font-weight="normal" font-style="italic" transform="rotate(-42 445.56 367.90)" >PRDM1</text>
<text x="464.09" y="367.90" font-size="6.6" text-anchor="end" fill="#2a2a2a" font-weight="normal" font-style="italic" transform="rotate(-42 464.09 367.90)" >EZH2</text>
<text x="482.62" y="367.90" font-size="6.6" text-anchor="end" fill="#2a2a2a" font-weight="normal" font-style="italic" transform="rotate(-42 482.62 367.90)" >KMT2D</text>
<text x="501.15" y="367.90" font-size="6.6" text-anchor="end" fill="#2a2a2a" font-weight="normal" font-style="italic" transform="rotate(-42 501.15 367.90)" >TP53</text>
<rect x="236.90" y="394.10" width="3.20" height="3.20" fill="#4a2258"/>
<text x="243.70" y="398.70" font-size="6.5" text-anchor="start" fill="#2a2a2a" font-weight="normal" font-style="normal" >Pediatric PTLD-DLBCL</text>
<text x="243.70" y="406.90" font-size="6.5" text-anchor="start" fill="#2a2a2a" font-weight="normal" font-style="normal" >(n = 18)</text>
<rect x="324.20" y="394.10" width="3.20" height="3.20" fill="#3aa2d6"/>
<text x="331.00" y="398.70" font-size="6.5" text-anchor="start" fill="#2a2a2a" font-weight="normal" font-style="normal" >Adult EBV+ PTLD-DLBCL</text>
<text x="331.00" y="406.90" font-size="6.5" text-anchor="start" fill="#2a2a2a" font-weight="normal" font-style="normal" >(n = 16)</text>
<rect x="419.00" y="394.10" width="3.20" height="3.20" fill="#ec8c1e"/>
<text x="425.90" y="398.70" font-size="6.5" text-anchor="start" fill="#2a2a2a" font-weight="normal" font-style="normal" >Adult EBV– PTLD-DLBCL</text>
<text x="425.90" y="406.90" font-size="6.5" text-anchor="start" fill="#2a2a2a" font-weight="normal" font-style="normal" >(n = 28)</text>
</svg>
</body></html>
